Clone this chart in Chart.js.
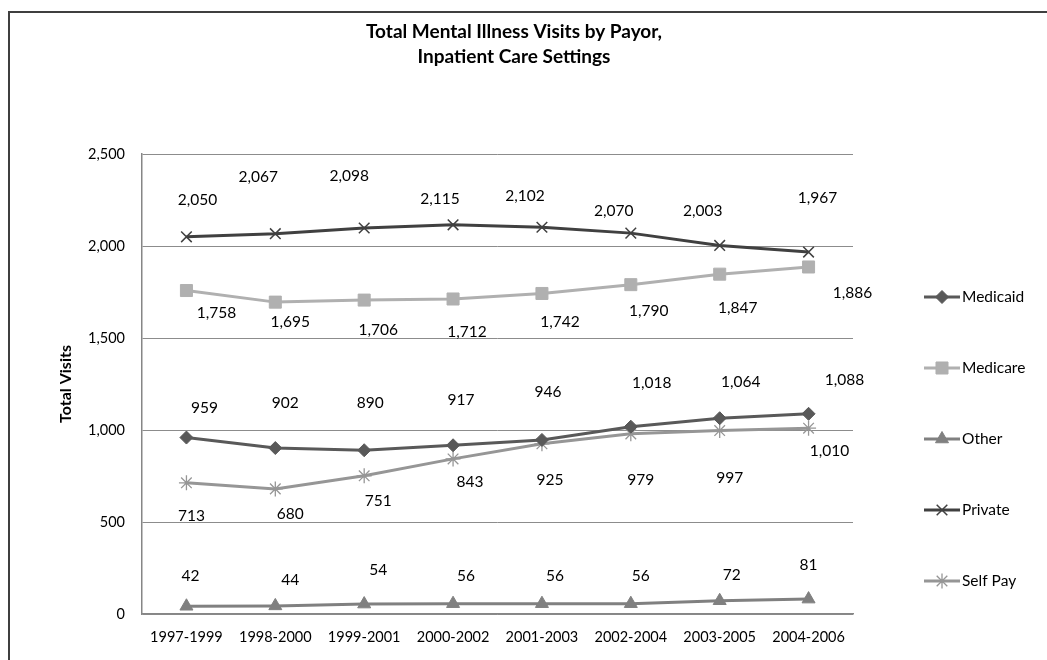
<!DOCTYPE html>
<html>
<head>
<meta charset="utf-8">
<script src="https://cdn.jsdelivr.net/npm/chart.js@4/dist/chart.umd.min.js"></script>
<style>
html,body{margin:0;padding:0;background:#fff;}
#wrap{position:relative;width:1047px;height:660px;}
</style>
</head>
<body>
<div id="wrap"><canvas id="c" width="1047" height="660"></canvas></div>
<script>
const categories = ['1997-1999','1998-2000','1999-2001','2000-2002','2001-2003','2002-2004','2003-2005','2004-2006'];
const medicaid = [959, 902, 890, 917, 946, 1018, 1064, 1088];
const medicare = [1758, 1695, 1706, 1712, 1742, 1790, 1847, 1886];
const other    = [42, 44, 54, 56, 56, 56, 72, 81];
const privatePay = [2050, 2067, 2098, 2115, 2102, 2070, 2003, 1967];
const selfPay  = [713, 680, 751, 843, 925, 979, 997, 1010];
const yTicks = [0, 500, 1000, 1500, 2000, 2500];
const titleLines = ['Total Mental Illness Visits by Payor,', 'Inpatient Care Settings'];
const yTitle = 'Total Visits';

// label offsets (px) relative to each point, styling only
const labelOffsets = {
  'Medicaid': [[18,-30],[10,-45],[6,-47],[8,-45],[6,-48],[21,-44],[21,-36],[36,-34]],
  'Medicare': [[30,22],[15,20],[14,30],[14,33],[18,29],[18,26],[18,34],[44,26]],
  'Other':    [[4,-30],[15,-26],[14,-34],[13,-28],[13,-28],[10,-28],[12,-26],[0,-34]],
  'Private':  [[11,-37],[-17,-57],[-15,-52],[-13,-26],[-17,-31],[-17,-22],[-17,-34],[9,-54]],
  'Self Pay': [[5,33],[15,25],[14,25],[17,23],[8,36],[10,46],[10,47],[21,23]]
};

const FONT = 'Lato, "Open Sans", sans-serif';
const fmt = v => v.toLocaleString('en-US');

const series = [
  {label:'Medicaid', data:medicaid, color:'#595959', style:'rectRot', r:6.5, pbw:1},
  {label:'Medicare', data:medicare, color:'#b0b0b0', style:'rect', r:8.5, pbw:1},
  {label:'Other', data:other, color:'#808080', style:'triangle', r:7.5, pbw:1},
  {label:'Private', data:privatePay, color:'#404040', style:'crossRot', r:7.5, pbw:1.5},
  {label:'Self Pay', data:selfPay, color:'#969696', style:'star', r:7.5, pbw:1.3}
];

function drawMarker(ctx, style, r, x, y){
  ctx.beginPath();
  Chart.helpers.drawPoint(ctx, {pointStyle: style, radius: r, rotation: 0, borderWidth: ctx.lineWidth}, x, y);
}

const decorPlugin = {
  id:'decor',
  beforeDraw(chart){
    const ctx = chart.ctx;
    ctx.save();
    ctx.fillStyle = '#fff';
    ctx.fillRect(0,0,chart.width,chart.height);
    ctx.strokeStyle = '#3f3f3f';
    ctx.lineWidth = 2;
    ctx.beginPath();
    ctx.moveTo(9, 660);
    ctx.lineTo(9, 12);
    ctx.lineTo(1047, 12);
    ctx.stroke();
    ctx.restore();
  },
  afterDraw(chart){
    const ctx = chart.ctx;
    const area = chart.chartArea;
    ctx.save();
    // title
    ctx.fillStyle = '#000';
    ctx.font = 'bold 19px ' + FONT;
    ctx.textAlign = 'center';
    ctx.textBaseline = 'middle';
    ctx.fillText(titleLines[0], 514, 32);
    ctx.fillText(titleLines[1], 514, 57);
    // y title
    ctx.save();
    ctx.translate(66, (area.top + area.bottom)/2);
    ctx.rotate(-Math.PI/2);
    ctx.font = 'bold 16px ' + FONT;
    ctx.fillText(yTitle, 0, 0);
    ctx.restore();
    // data labels
    ctx.font = '15.5px ' + FONT;
    ctx.fillStyle = '#000';
    chart.data.datasets.forEach((ds, di) => {
      const meta = chart.getDatasetMeta(di);
      const offs = labelOffsets[ds.label];
      meta.data.forEach((pt, i) => {
        const o = offs[i];
        ctx.fillText(fmt(ds.data[i]), pt.x + o[0], pt.y + o[1]);
      });
    });
    // legend
    const legendY = [297, 368, 439, 510, 581];
    chart.data.datasets.forEach((ds, di) => {
      const y = legendY[di];
      ctx.strokeStyle = ds.borderColor;
      ctx.lineWidth = 3;
      ctx.beginPath();
      ctx.moveTo(924, y);
      ctx.lineTo(960, y);
      ctx.stroke();
      ctx.fillStyle = ds.borderColor;
      ctx.lineWidth = ds.pointBorderWidth;
      drawMarker(ctx, ds.pointStyle, ds.pointRadius, 942, y);
      ctx.fillStyle = '#000';
      ctx.font = '15.5px ' + FONT;
      ctx.textAlign = 'left';
      ctx.fillText(ds.label, 962, y);
    });
    ctx.restore();
  }
};

new Chart(document.getElementById('c'), {
  type:'line',
  data:{
    labels: categories,
    datasets: series.map(s => ({
      label: s.label,
      data: s.data,
      borderColor: s.color,
      backgroundColor: s.color,
      borderWidth: 3,
      pointStyle: s.style,
      pointRadius: s.r,
      pointBorderWidth: s.pbw,
      pointBackgroundColor: s.color,
      pointBorderColor: s.color,
      tension: 0
    }))
  },
  options:{
    responsive:false,
    animation:false,
    events:[],
    layout:{padding:{left:0, top:154, right:194, bottom:0}},
    plugins:{legend:{display:false}, title:{display:false}, tooltip:{enabled:false}},
    scales:{
      x:{
        offset:true,
        grid:{display:false, drawTicks:false},
        border:{display:true, color:'#868686', width:1.5},
        ticks:{color:'#000', font:{family:FONT, size:14.5}, padding:15, maxRotation:0},
        afterFit(s){ s.height = 46; }
      },
      y:{
        min:0, max:2500,
        afterBuildTicks(s){ s.ticks = yTicks.map(v => ({value:v})); },
        grid:{color:'#8c8c8c', lineWidth:1, drawTicks:false},
        border:{display:true, color:'#868686', width:1.5},
        ticks:{color:'#000', font:{family:FONT, size:14.5}, padding:17, callback: v => fmt(v)},
        afterFit(s){ s.width = 142; }
      }
    }
  },
  plugins:[decorPlugin]
});
</script>
</body>
</html>
